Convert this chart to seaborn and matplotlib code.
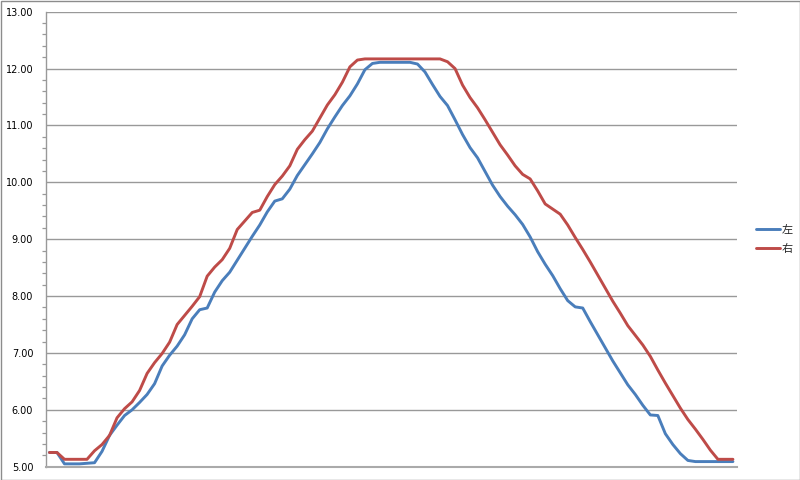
import matplotlib
matplotlib.use("Agg")
import matplotlib.pyplot as plt
import seaborn as sns
import pandas as pd
import numpy as np
from matplotlib.patches import Rectangle
from matplotlib.ticker import MultipleLocator, FormatStrFormatter
from matplotlib.lines import Line2D

series_names = ["左", "右"]
left_values = [
    5.25, 5.25, 5.05, 5.05, 5.05, 5.06, 5.07, 5.27, 5.55, 5.73,
    5.90, 6.00, 6.13, 6.27, 6.46, 6.77, 6.96, 7.12, 7.32, 7.60,
    7.76, 7.79, 8.07, 8.27, 8.42, 8.63, 8.84, 9.05, 9.25, 9.48,
    9.67, 9.71, 9.88, 10.12, 10.31, 10.50, 10.70, 10.94, 11.15, 11.35,
    11.52, 11.73, 11.98, 12.09, 12.11, 12.11, 12.11, 12.11, 12.11, 12.08,
    11.94, 11.72, 11.51, 11.35, 11.10, 10.84, 10.61, 10.43, 10.19, 9.95,
    9.75, 9.58, 9.43, 9.26, 9.04, 8.78, 8.56, 8.36, 8.13, 7.92,
    7.81, 7.79, 7.55, 7.32, 7.09, 6.86, 6.65, 6.44, 6.27, 6.08,
    5.91, 5.90, 5.58, 5.39, 5.23, 5.11, 5.09, 5.09, 5.09, 5.09,
    5.09, 5.09,
]
right_values = [
    5.25, 5.25, 5.13, 5.13, 5.13, 5.13, 5.28, 5.39, 5.55, 5.86,
    6.02, 6.14, 6.34, 6.64, 6.83, 6.99, 7.19, 7.50, 7.66, 7.82,
    7.99, 8.35, 8.51, 8.64, 8.84, 9.17, 9.32, 9.47, 9.51, 9.75,
    9.96, 10.11, 10.29, 10.58, 10.75, 10.90, 11.13, 11.36, 11.54, 11.76,
    12.03, 12.15, 12.17, 12.17, 12.17, 12.17, 12.17, 12.17, 12.17, 12.17,
    12.17, 12.17, 12.17, 12.12, 12.00, 11.71, 11.49, 11.31, 11.10, 10.88,
    10.66, 10.48, 10.29, 10.14, 10.06, 9.85, 9.62, 9.53, 9.44, 9.25,
    9.03, 8.82, 8.60, 8.37, 8.14, 7.91, 7.70, 7.48, 7.31, 7.14,
    6.94, 6.70, 6.47, 6.25, 6.03, 5.83, 5.66, 5.48, 5.29, 5.13,
    5.13, 5.13,
]
y_ticks = [5, 6, 7, 8, 9, 10, 11, 12, 13]
colors = ["#4a7ebb", "#be4b48"]

n = len(left_values)
df = pd.DataFrame({
    "idx": list(range(n)) * 2,
    "value": left_values + right_values,
    "series": [series_names[0]] * n + [series_names[1]] * n,
})

sns.set_style("white")
plt.rcParams["font.family"] = ["DejaVu Sans"]

fig = plt.figure(figsize=(8, 4.8), dpi=100)
ax = fig.add_axes([45.7 / 800, 1 - 466.7 / 480, (736.7 - 45.7) / 800, (466.7 - 11.7) / 480])

sns.lineplot(data=df, x="idx", y="value", hue="series",
             palette=dict(zip(series_names, colors)), linewidth=2.1,
             legend=False, ax=ax, sort=False)

ax.set_xlim(-0.5, n - 0.5)
ax.set_ylim(y_ticks[0], y_ticks[-1])
ax.set_xlabel("")
ax.set_ylabel("")
ax.set_xticks([])
ax.set_yticks(y_ticks)
ax.yaxis.set_major_formatter(FormatStrFormatter("%.2f"))
ax.yaxis.set_minor_locator(MultipleLocator(0.2))
ax.tick_params(axis="y", which="major", length=0, pad=9, labelsize=7, labelcolor="#000000")
ax.tick_params(axis="y", which="minor", length=3, width=0.9, color="#999999", direction="out", left=True)
ax.grid(True, axis="y", which="major", color="#999999", linewidth=1.0)
ax.set_axisbelow(True)
for s in ["top", "right"]:
    ax.spines[s].set_visible(False)
ax.spines["left"].set_color("#999999")
ax.spines["bottom"].set_color("#aaaaaa")
ax.spines["left"].set_linewidth(1.0)
ax.spines["bottom"].set_linewidth(1.5)

handles = [Line2D([0], [0], color=c, linewidth=2.1) for c in colors]
fig.legend(handles, series_names, loc="center left",
           bbox_to_anchor=(750 / 800, 1 - 239.5 / 480), frameon=False,
           prop={"family": ["Noto Sans CJK SC", "DejaVu Sans"], "size": 8},
           handlelength=2.2, handletextpad=0.15, labelspacing=0.75, borderpad=0)

fig.patches.append(Rectangle((0.5 / 800, 0.5 / 480), 799 / 800, 479 / 480,
                             transform=fig.transFigure, fill=False,
                             edgecolor="#8c8c8c", linewidth=1.0))

fig.savefig("out.png", dpi=100)
